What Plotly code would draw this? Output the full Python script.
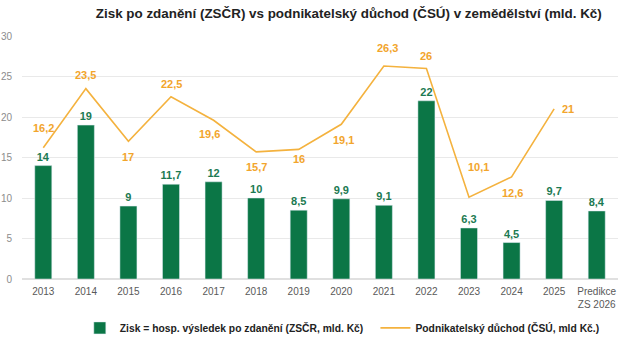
import plotly.graph_objects as go

categories = ["2013", "2014", "2015", "2016", "2017", "2018", "2019", "2020",
              "2021", "2022", "2023", "2024", "2025", "Predikce<br>ZS 2026"]
zisk = [14, 19, 9, 11.7, 12, 10, 8.5, 9.9, 9.1, 22, 6.3, 4.5, 9.7, 8.4]
duchod = [16.2, 23.5, 17, 22.5, 19.6, 15.7, 16, 19.1, 26.3, 26, 10.1, 12.6, 21, None]
# label offsets (px) for the orange labels: (xshift, yshift)
label_shift = [(0, 20), (0, 14), (0, -16), (0, 13), (-4, -14), (0, -15), (0, -10),
               (2, -16), (4, 18), (0, 12), (9, 30), (1, -16), (14, 0), (0, 0)]

def fmt(v):
    if v is None:
        return ""
    return ("%g" % v).replace(".", ",")

FONT = "Arial, Liberation Sans, sans-serif"
GREEN = "#0b7646"
ORANGE = "#f4b23e"

fig = go.Figure()
fig.add_trace(go.Bar(
    x=categories, y=zisk,
    name="Zisk = hosp. výsledek po zdanění (ZSČR, mld. Kč)",
    marker=dict(color=GREEN),
    text=[fmt(v) for v in zisk], textposition="outside", constraintext="none",
    textfont=dict(color="#1c7a52", size=11, family=FONT, weight="bold"),
    cliponaxis=False, legend="legend",
))
fig.add_trace(go.Scatter(
    x=categories, y=duchod, mode="lines",
    name="Podnikatelský důchod (ČSÚ, mld Kč.)",
    line=dict(color=ORANGE, width=1.6),
    cliponaxis=False, legend="legend2",
))

# category axis: annotation x given as the category index
for i, (v, (dx, dy)) in enumerate(zip(duchod, label_shift)):
    if v is None:
        continue
    fig.add_annotation(x=i, y=v, text=fmt(v), showarrow=False,
                       xshift=dx, yshift=dy,
                       font=dict(color="#f2a52c", size=11, family=FONT, weight="bold"))

legend_font = dict(size=10.3, color="#222222", family=FONT, weight="bold")
fig.update_layout(
    width=640, height=343,
    margin=dict(l=22, r=22, t=36, b=64, autoexpand=False),
    paper_bgcolor="white", plot_bgcolor="white",
    font=dict(family=FONT, color="#595959"),
    title=dict(text="<b>Zisk po zdanění (ZSČR) vs podnikatelský důchod (ČSÚ) v zemědělství (mld. Kč)</b>",
               x=0.545, xanchor="center", yref="container", y=0.96, yanchor="middle",
               font=dict(size=13.4, color="#222222", family=FONT)),
    bargap=0.6,
    showlegend=True,
    legend=dict(orientation="h", x=0.097, xanchor="left", yref="container", y=0.044,
                yanchor="middle", font=legend_font, itemwidth=30, bgcolor="rgba(0,0,0,0)"),
    legend2=dict(orientation="h", x=0.593, xanchor="left", yref="container", y=0.044,
                 yanchor="middle", font=legend_font, itemwidth=30, bgcolor="rgba(0,0,0,0)"),
    xaxis=dict(type="category", range=[-0.5, len(categories) - 0.5], automargin=False,
               tickfont=dict(size=10, color="#595959"), showgrid=False,
               showline=False, ticks="", ticklabelstandoff=5),
    yaxis=dict(range=[0, 30], dtick=5, gridcolor="#e9e9e9", gridwidth=1, automargin=False,
               zeroline=True, zerolinecolor="#e0e0e0",
               tickfont=dict(size=10, color="#8c8c8c"), ticklabelstandoff=9),
)

fig.write_html("out.html")
